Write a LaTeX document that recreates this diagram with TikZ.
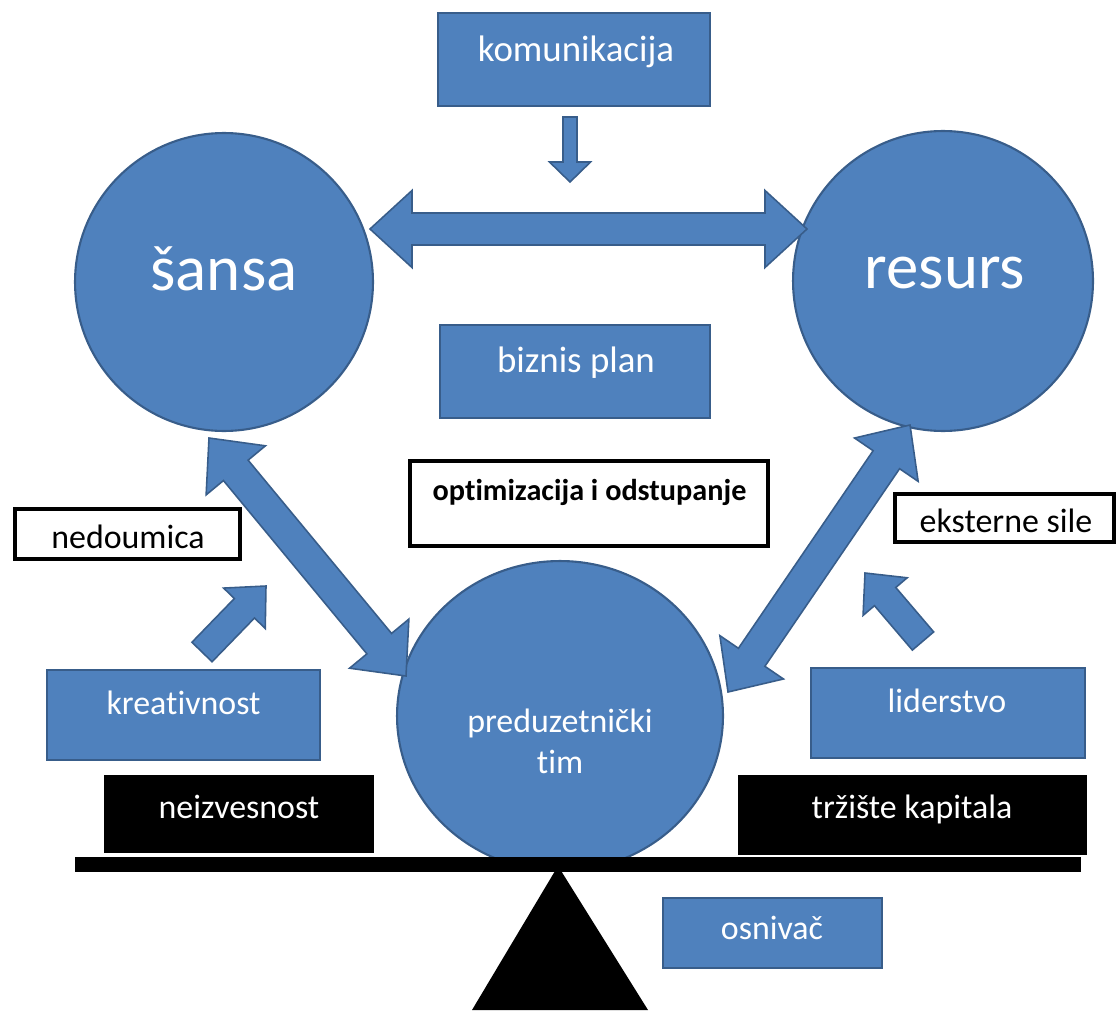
\documentclass[tikz,border=0pt]{standalone}
\usepackage{fontspec}
\setmainfont{Carlito}[Ligatures={NoCommon}]
\usetikzlibrary{calc,shapes.geometric}

\definecolor{bluefill}{RGB}{79,129,189}
\definecolor{blueedge}{RGB}{56,93,138}

% Double-headed block arrow between tips #1 and #2
% #3 = half shaft width, #4 = half head width, #5 = head length
\newcommand{\dblarrow}[5]{%
  \filldraw[blockarrow] (#1)
    -- ($(#1)!#5!(#2)!#4!90:(#2)$)
    -- ($(#1)!#5!(#2)!#3!90:(#2)$)
    -- ($(#2)!#5!(#1)!#3!-90:(#1)$)
    -- ($(#2)!#5!(#1)!#4!-90:(#1)$)
    -- (#2)
    -- ($(#2)!#5!(#1)!#4!90:(#1)$)
    -- ($(#2)!#5!(#1)!#3!90:(#1)$)
    -- ($(#1)!#5!(#2)!#3!-90:(#2)$)
    -- ($(#1)!#5!(#2)!#4!-90:(#2)$)
    -- cycle;}

% Single block arrow from tail #1 to tip #2
\newcommand{\sglarrow}[5]{%
  \filldraw[blockarrow] ($(#1)!#3!90:(#2)$)
    -- ($(#2)!#5!(#1)!#3!-90:(#1)$)
    -- ($(#2)!#5!(#1)!#4!-90:(#1)$)
    -- (#2)
    -- ($(#2)!#5!(#1)!#4!90:(#1)$)
    -- ($(#2)!#5!(#1)!#3!90:(#1)$)
    -- ($(#1)!#3!-90:(#2)$)
    -- cycle;}

\begin{document}
\begin{tikzpicture}[x=0.02cm, y=-0.02cm,
  bluebox/.style={rectangle, draw=blueedge, fill=bluefill, line width=1pt, inner sep=0pt},
  bluedisc/.style={circle, draw=blueedge, fill=bluefill, line width=1.2pt, inner sep=0pt},
  blueoval/.style={ellipse, draw=blueedge, fill=bluefill, line width=1.2pt, inner sep=0pt},
  framebox/.style={rectangle, draw=black, fill=white, line width=2.3pt, inner sep=0pt},
  darkbox/.style={rectangle, fill=black, inner sep=0pt},
  blockarrow/.style={draw=blueedge, fill=bluefill, line width=0.9pt, line join=miter},
  lbl/.style={anchor=base, inner sep=0pt, font=\fontsize{19.3}{23.2}\selectfont},
  lblbig/.style={anchor=base, inner sep=0pt, font=\fontsize{21}{25}\selectfont},
  lblhuge/.style={anchor=base, inner sep=0pt, font=\fontsize{36.9}{44}\selectfont},
  lblbold/.style={anchor=base, inner sep=0pt, font=\fontsize{17.2}{20.6}\selectfont\bfseries},
  ]
\useasboundingbox (0,0) rectangle (1118,1010);

% main circles
\node[bluedisc, minimum size=5.96cm] (sansa) at (224,282) {};
\node[lblhuge, text=white] (sansa-t) at (224,290) {šansa};
\node[bluedisc, minimum size=6.00cm] (resurs) at (943,281) {};
\node[lblhuge, text=white] (resurs-t) at (945,288) {resurs};

% top and middle boxes
\node[bluebox, minimum width=5.44cm, minimum height=1.86cm] (kom) at (574,59.5) {};
\node[lblbig, text=white] (kom-t) at (576,62) {komunikacija};
\node[bluebox, minimum width=5.40cm, minimum height=1.86cm] (biz) at (575,371.5) {};
\node[lblbig, text=white] (biz-t) at (576,372) {biznis plan};
\node[framebox, minimum width=7.16cm, minimum height=1.70cm] (opt) at (589,503.5) {};
\node[lblbold] (opt-t) at (589.5,500) {optimizacija i odstupanje};

% side labels
\node[framebox, minimum width=4.50cm, minimum height=1.00cm] (ned) at (127.5,534) {};
\node[lbl] (ned-t) at (128,548) {nedoumica};
\node[framebox, minimum width=4.38cm, minimum height=0.96cm] (eks) at (1004.5,518) {};
\node[lbl] (eks-t) at (1006,532) {eksterne sile};

\node[bluebox, minimum width=5.46cm, minimum height=1.80cm] (kre) at (183.5,715) {};
\node[lbl, text=white] (kre-t) at (183.5,714) {kreativnost};
\node[bluebox, minimum width=5.48cm, minimum height=1.80cm] (lid) at (948,713) {};
\node[lbl, text=white] (lid-t) at (947,712) {liderstvo};

% team circle
\node[blueoval, minimum width=6.52cm, minimum height=6.20cm] (tim) at (560,716) {};
\node[lbl, text=white] (tim-t1) at (560,732) {preduzetnički};
\node[lbl, text=white] (tim-t2) at (560,773) {tim};

% balance: fulcrum and beam
\fill[black] (558,866) -- (472,1010) -- (648,1010) -- cycle;
\node[darkbox, minimum width=20.12cm, minimum height=0.30cm] (beam) at (578,864.5) {};

% weights on the beam
\node[darkbox, minimum width=5.40cm, minimum height=1.56cm] (nei) at (239,814) {};
\node[lbl, text=white] (nei-t) at (239,818) {neizvesnost};
\node[darkbox, minimum width=6.98cm, minimum height=1.60cm] (trz) at (912.5,815) {};
\node[lbl, text=white] (trz-t) at (912,818) {tržište kapitala};

\node[bluebox, minimum width=4.38cm, minimum height=1.40cm] (osn) at (772.5,933) {};
\node[lbl, text=white] (osn-t) at (772,939) {osnivač};

% arrow end points
\coordinate (hL) at ($(sansa.center)+(146,-53)$);
\coordinate (hR) at ($(resurs.center)+(-136,-52)$);
\coordinate (dLa) at ($(sansa.center)+(-15,156)$);
\coordinate (dLb) at ($(tim.center)+(-154,-40)$);
\coordinate (dRa) at ($(resurs.center)+(-33,144)$);
\coordinate (dRb) at ($(tim.center)+(168,-24)$);
\coordinate (kTail) at ($(kom.center)+(-4,57.5)$);
\coordinate (kTip) at ($(kom.center)+(-4,122.5)$);
\coordinate (crTail) at ($(kre.center)+(18.5,-63)$);
\coordinate (crTip) at ($(kre.center)+(82.5,-129)$);
\coordinate (ldTail) at ($(lid.center)+(-25,-72)$);
\coordinate (ldTip) at ($(lid.center)+(-83,-140)$);

% block arrows
\dblarrow{hL}{hR}{0.32cm}{0.77cm}{0.84cm}
\dblarrow{dLa}{dLb}{0.32cm}{0.77cm}{0.84cm}
\dblarrow{dRa}{dRb}{0.32cm}{0.77cm}{0.84cm}
\sglarrow{kTail}{kTip}{0.14cm}{0.41cm}{0.40cm}
\sglarrow{crTail}{crTip}{0.28cm}{0.58cm}{0.62cm}
\sglarrow{ldTail}{ldTip}{0.28cm}{0.58cm}{0.62cm}
\end{tikzpicture}
\end{document}
